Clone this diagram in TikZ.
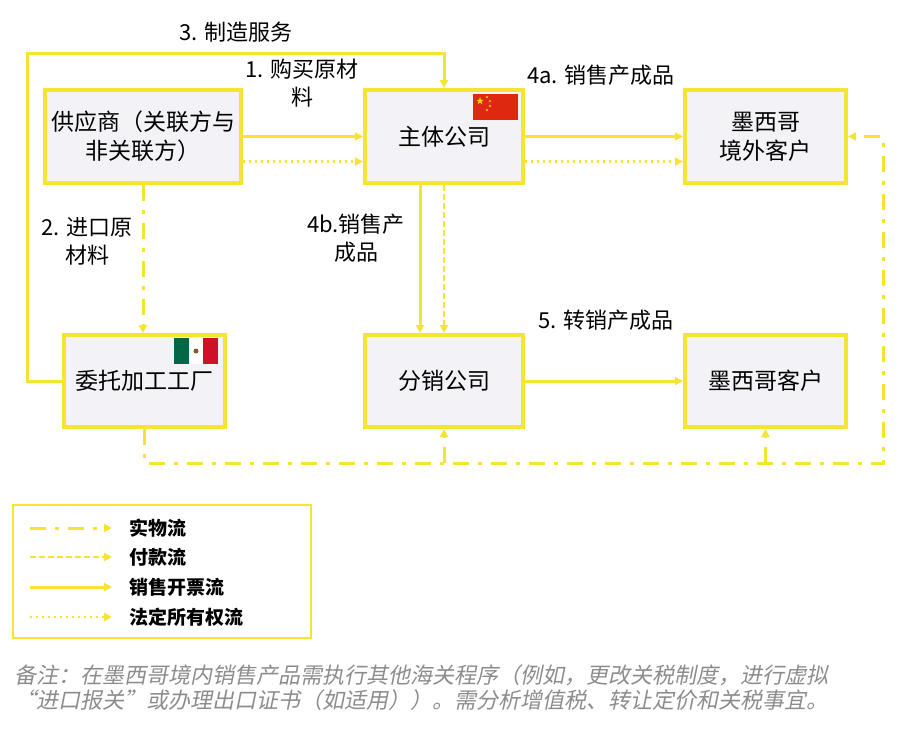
\documentclass[tikz,border=0pt]{standalone}
\usepackage{fontspec}
\setmainfont{Noto Sans CJK SC}
\newfontfamily\notefont[FakeSlant=0.2]{Noto Sans CJK SC}
\usetikzlibrary{arrows.meta,shapes.geometric}
\definecolor{eyyellow}{RGB}{245,228,50}
\definecolor{boxfill}{RGB}{243,243,247}
\definecolor{notegray}{RGB}{140,140,140}
\definecolor{cnred}{RGB}{222,41,16}
\definecolor{cnyellow}{RGB}{255,222,0}
\definecolor{mxgreen}{RGB}{0,104,71}
\definecolor{mxred}{RGB}{206,17,38}

\begin{document}
\begin{tikzpicture}[x=1pt,y=-1pt,
    >={Triangle[length=8pt,width=8pt]},
    box/.style={draw=eyyellow,line width=4pt,fill=boxfill,inner sep=0pt,
      align=center,font=\fontsize{23}{29}\selectfont},
    lbl/.style={align=center,font=\fontsize{22}{28}\selectfont},
    flowsolid/.style={draw=eyyellow,line width=3pt},
    flowphys/.style={draw=eyyellow,line width=3pt,dash pattern=on 16pt off 9pt on 4pt off 9pt},
    flowpay/.style={draw=eyyellow,line width=2.5pt,dash pattern=on 6pt off 3pt},
    flowown/.style={draw=eyyellow,line width=2.5pt,dash pattern=on 2pt off 4pt}]
    \useasboundingbox (0,0) rectangle (899,734);

    % boxes
    \node[box,minimum width=196pt,minimum height=93pt] (sup) at (143,136.5) {供应商（关联方与\\非关联方）};
    \node[box,minimum width=158pt,minimum height=93pt] (main) at (444,136.5) {主体公司};
    \node[box,minimum width=161pt,minimum height=93pt] (oc) at (765.5,136.5) {墨西哥\\境外客户};
    \node[box,minimum width=161pt,minimum height=92pt] (fac) at (144.5,381) {委托加工工厂};
    \node[box,minimum width=158pt,minimum height=92pt] (dist) at (444,381) {分销公司};
    \node[box,minimum width=161pt,minimum height=92pt] (mc) at (765.5,381) {墨西哥客户};

    % flags
    \fill[cnred] (473,94) rectangle (518,120);
    \node[star,star points=5,star point ratio=2.6,fill=cnyellow,minimum size=8pt,inner sep=0pt] at (480,101) {};
    \node[star,star points=5,star point ratio=2.6,fill=cnyellow,minimum size=3pt,inner sep=0pt] at (487,97) {};
    \node[star,star points=5,star point ratio=2.6,fill=cnyellow,minimum size=3pt,inner sep=0pt] at (490,101) {};
    \node[star,star points=5,star point ratio=2.6,fill=cnyellow,minimum size=3pt,inner sep=0pt] at (490,106) {};
    \node[star,star points=5,star point ratio=2.6,fill=cnyellow,minimum size=3pt,inner sep=0pt] at (487,110) {};
    \fill[mxgreen] (174,338) rectangle (189,364);
    \fill[white] (189,338) rectangle (203,364);
    \fill[mxred] (203,338) rectangle (218,364);
    \fill[brown!70!black] (196,351) circle (2.5pt);

    % flows
    \draw[flowsolid,->] (fac.west) -- ++(-35,0) |- ([yshift=35pt]main.north) -- (main.north);
    \draw[flowsolid,->] (sup.east) -- (main.west);
    \draw[flowown,->] ([yshift=-25pt]sup.east) -- ([yshift=-25pt]main.west);
    \draw[flowphys,->] (sup.south) -- (sup.south |- fac.north);
    \draw[flowsolid,->] (main.east) -- (oc.west);
    \draw[flowown,->] ([yshift=-25pt]main.east) -- ([yshift=-25pt]oc.west);
    \draw[flowsolid,->] ([xshift=-24pt]main.south) -- ([xshift=-24pt]dist.north);
    \draw[flowpay,->] (main.south) -- (dist.north);
    \draw[flowsolid,->] (dist.east) -- (mc.west);
    \coordinate (loop) at (883,463);
    \draw[flowphys,->] (fac.south) |- (loop) |- (oc.east);
    \draw[flowphys,->] (dist.south |- loop) -- (dist.south);
    \draw[flowphys,->] (mc.south |- loop) -- (mc.south);

    % labels
    \node[lbl] (l3) at (236,32) {3. 制造服务};
    \node[lbl] (l1) at (302,83.5) {1. 购买原材\\料};
    \node[lbl] (l2) at (87,241) {2. 进口原\\材料};
    \node[lbl] (l4a) at (601,75) {4a. 销售产成品};
    \node[lbl] (l4b) at (356,238) {4b.销售产\\成品};
    \node[lbl] (l5) at (606,320) {5. 转销产成品};

    % legend
    \node[draw=eyyellow,line width=2pt,fill=white,minimum width=298pt,minimum height=133pt] (leg) at (162,571.5) {};
    \draw[flowphys,->] (30,528) -- (112,528);
    \draw[flowpay,->] (30,557) -- (112,557);
    \draw[flowsolid,->] (30,587) -- (112,587);
    \draw[flowown,->] (30,617) -- (112,617);
    \node[anchor=west,font=\fontsize{19}{23}\bfseries\selectfont] (t1) at (126,528) {实物流};
    \node[anchor=west,font=\fontsize{19}{23}\bfseries\selectfont] (t2) at (126,557) {付款流};
    \node[anchor=west,font=\fontsize{19}{23}\bfseries\selectfont] (t3) at (126,587) {销售开票流};
    \node[anchor=west,font=\fontsize{19}{23}\bfseries\selectfont] (t4) at (126,617) {法定所有权流};

    % note
    \node[anchor=west,align=left,inner sep=0pt,text=notegray,font=\notefont\fontsize{22}{25}\selectfont] (note) at (14,687.5)
      {备注：在墨西哥境内销售产品需执行其他海关程序（例如，更改关税制度，进行虚拟\\“进口报关”或办理出口证书（如适用））。需分析增值税、转让定价和关税事宜。};
  \end{tikzpicture}
\end{document}
